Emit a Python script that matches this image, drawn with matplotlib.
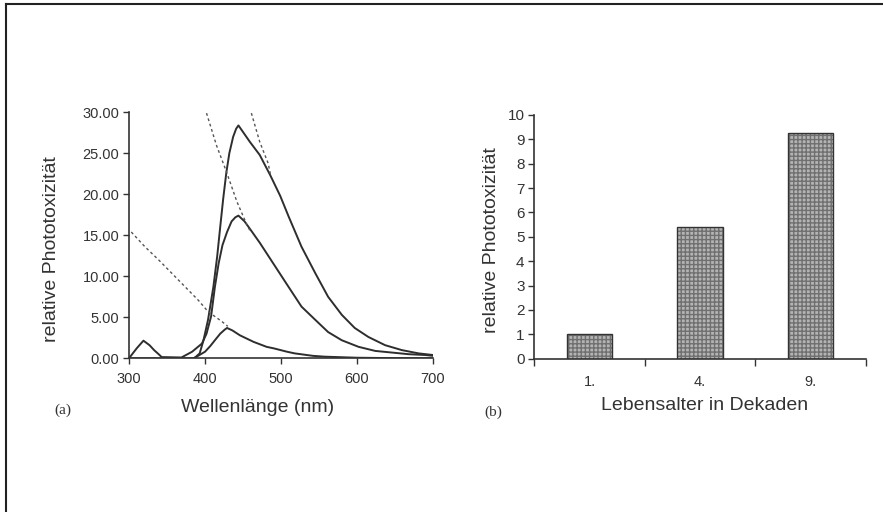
import numpy as np
import matplotlib
matplotlib.use("Agg")
import matplotlib.pyplot as plt
from matplotlib.lines import Line2D

plt.rcParams['font.family'] = ['Liberation Sans', 'DejaVu Sans']

# (a) spectra, wavelength in nm
curve_a_x = [300, 385, 387, 393, 398, 404, 411, 416, 420, 424, 428, 432, 437, 441, 444,
             459, 472, 486, 499, 510, 527, 545, 562, 580, 597, 615, 637, 659, 681, 700]
curve_a_y = [0.0, 0.0, 0.1, 0.6, 2.2, 4.7, 8.7, 12.4, 16.0, 19.5, 22.6, 25.0, 27.0, 28.0, 28.4,
             26.4, 24.8, 22.3, 19.8, 17.3, 13.6, 10.4, 7.5, 5.3, 3.7, 2.6, 1.6, 1.0, 0.6, 0.4]

curve_b_x = [300, 310, 319, 327, 333, 339, 343, 369, 383, 396, 402, 408, 413, 418, 423, 429, 435, 440, 444,
             452, 459, 472, 491, 510, 527, 545, 562, 580, 602, 624, 646, 668, 690, 700]
curve_b_y = [0.0, 1.2, 2.15, 1.6, 1.0, 0.5, 0.15, 0.1, 0.8, 1.8, 3.0, 5.1, 8.7, 11.6, 13.8, 15.4, 16.7, 17.2, 17.4,
             16.7, 15.8, 14.1, 11.4, 8.7, 6.3, 4.7, 3.2, 2.2, 1.4, 0.9, 0.7, 0.5, 0.4, 0.3]

curve_c_x = [385, 389, 400, 407, 413, 420, 426, 429, 436, 446, 464, 481, 491, 508, 518, 542, 557, 600, 650, 700]
curve_c_y = [0.0, 0.2, 0.8, 1.5, 2.2, 3.0, 3.5, 3.7, 3.4, 2.8, 2.0, 1.4, 1.2, 0.8, 0.6, 0.3, 0.2, 0.07, 0.02, 0.0]

dash_1_x = [303, 321, 339, 356, 374, 391, 404, 422, 430]
dash_1_y = [15.4, 13.6, 12.0, 10.4, 8.7, 7.1, 5.7, 4.5, 3.9]

dash_2_x = [402, 415, 428, 442, 455, 459]
dash_2_y = [29.9, 26.0, 22.8, 19.1, 16.3, 15.6]

dash_3_x = [461, 472, 483, 486]
dash_3_y = [29.9, 26.4, 23.8, 22.5]

x_ticks_a = [300, 400, 500, 600, 700]
y_ticks_a = [0, 5, 10, 15, 20, 25, 30]

# (b) bars
age_labels = ["1.", "4.", "9."]
bar_values = [1.0, 5.42, 9.25]
y_ticks_b = list(range(0, 11))

W, H = 883, 512
fig = plt.figure(figsize=(W / 100, H / 100), dpi=100)

line_col = '#2e2e2e'
tick_col = '#333333'

# ---- panel (a)
ax1 = fig.add_axes([129 / W, 1 - 358.3 / H, (433 - 129) / W, (358.3 - 112.3) / H])
for cx, cy in [(curve_a_x, curve_a_y), (curve_b_x, curve_b_y), (curve_c_x, curve_c_y)]:
    ax1.plot(cx, cy, color=line_col, lw=1.4, solid_joinstyle='round')
for dx, dy in [(dash_1_x, dash_1_y), (dash_2_x, dash_2_y), (dash_3_x, dash_3_y)]:
    ax1.plot(dx, dy, color='#555555', lw=1.0, ls=(0, (2, 2)))
ax1.set_xlim(300, 700)
ax1.set_ylim(0, 30)
ax1.set_xticks(x_ticks_a)
ax1.set_yticks(y_ticks_a)
ax1.set_yticklabels([f"{v:.2f}" for v in y_ticks_a])
ax1.spines['top'].set_visible(False)
ax1.spines['right'].set_visible(False)
for s in ['left', 'bottom']:
    ax1.spines[s].set_color(tick_col)
    ax1.spines[s].set_linewidth(1.2)
ax1.tick_params(axis='y', labelsize=10.5, length=4, width=1, color=tick_col, labelcolor='#333333', pad=3)
ax1.tick_params(axis='x', labelsize=10.5, length=4, width=1, color=tick_col, labelcolor='#333333', pad=6)

# ---- panel (b)
ax2 = fig.add_axes([534.3 / W, 1 - 358.7 / H, (866 - 534.3) / W, (358.7 - 115) / H])
xpos = np.arange(len(age_labels))
ax2.bar(xpos, bar_values, width=0.41, color='#b4b4b4', edgecolor='#707070', hatch='++++', linewidth=0)
ax2.bar(xpos, bar_values, width=0.41, fill=False, edgecolor='#333333', linewidth=1.0)
ax2.set_xlim(-0.5, 2.5)
ax2.set_ylim(0, 10)
ax2.set_yticks(y_ticks_b)
ax2.set_xticks([-0.5, 0.5, 1.5, 2.5])
ax2.set_xticklabels([])
ax2.set_xticks(xpos, minor=True)
ax2.set_xticklabels(age_labels, minor=True)
ax2.tick_params(axis='x', which='minor', length=0, labelsize=10.5, pad=12, labelcolor='#333333')
ax2.tick_params(axis='x', which='major', length=5, width=1, color=tick_col)
ax2.tick_params(axis='y', labelsize=11, length=4, width=1, color=tick_col, labelcolor='#333333', pad=3)
ax2.spines['top'].set_visible(False)
ax2.spines['right'].set_visible(False)
for s in ['left', 'bottom']:
    ax2.spines[s].set_color(tick_col)
    ax2.spines[s].set_linewidth(1.2)

# labels
fig.text(52 / W, 1 - 249 / H, "relative Phototoxizität", rotation=90, ha='center', va='center', fontsize=14, color='#333333')
fig.text(258 / W, 1 - 408 / H, "Wellenlänge (nm)", ha='center', va='center', fontsize=14, color='#333333')
fig.text(63 / W, 1 - 410 / H, "(a)", ha='center', va='center', fontsize=11, family='Liberation Serif', color='#333333')
fig.text(492 / W, 1 - 240 / H, "relative Phototoxizität", rotation=90, ha='center', va='center', fontsize=14, color='#333333')
fig.text(705 / W, 1 - 405 / H, "Lebensalter in Dekaden", ha='center', va='center', fontsize=14, color='#333333')
fig.text(493 / W, 1 - 412 / H, "(b)", ha='center', va='center', fontsize=11, family='Liberation Serif', color='#333333')

# page frame (top and left edges)
fig.add_artist(Line2D([6 / W, 1], [1 - 4 / H, 1 - 4 / H], transform=fig.transFigure, color='#222222', lw=1.5))
fig.add_artist(Line2D([6 / W, 6 / W], [0, 1 - 4 / H], transform=fig.transFigure, color='#222222', lw=1.5))

fig.savefig("out.png", dpi=100)
